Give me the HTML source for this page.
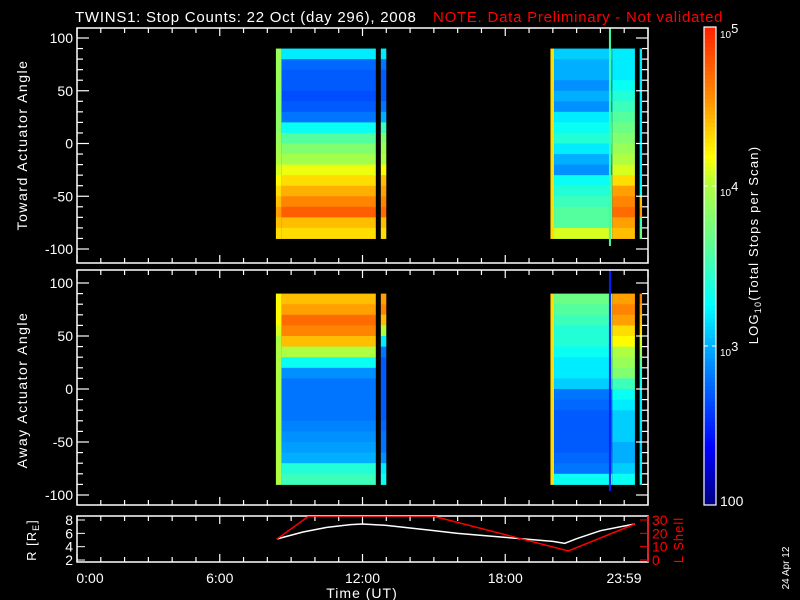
<!DOCTYPE html>
<html><head><meta charset="utf-8"><style>
html,body{margin:0;padding:0;background:#000;overflow:hidden;}
svg{display:block;font-family:"Liberation Sans",sans-serif;}
</style></head><body>
<svg id="c" width="800" height="600" viewBox="0 0 800 600">
<rect width="800" height="600" fill="#000"/>
<g id="g"></g>
<text x="75" y="22" fill="#fff" font-size="15" letter-spacing="0.75">TWINS1: Stop Counts: 22 Oct (day 296), 2008</text>
<text x="433" y="22" fill="#f00" font-size="15" letter-spacing="0.75">NOTE. Data Preliminary - Not validated</text>
<text transform="translate(27,145) rotate(-90)" text-anchor="middle" fill="#fff" font-size="14" letter-spacing="1.5">Toward Actuator Angle</text>
<text transform="translate(27,390) rotate(-90)" text-anchor="middle" fill="#fff" font-size="14" letter-spacing="1.5">Away Actuator Angle</text>
<text transform="translate(36,540) rotate(-90)" text-anchor="middle" fill="#fff" font-size="13" letter-spacing="1">R [R<tspan font-size="9" dy="3">E</tspan><tspan dy="-3">]</tspan></text>
<text transform="translate(683,540) rotate(-90)" text-anchor="middle" fill="#f00" font-size="13" letter-spacing="1">L Shell</text>
<text x="362" y="598" text-anchor="middle" fill="#fff" font-size="14" letter-spacing="1">Time (UT)</text>
<text x="720" y="38" fill="#fff" font-size="10">10<tspan font-size="13" dy="-5">5</tspan></text>
<text x="720" y="196" fill="#fff" font-size="10">10<tspan font-size="13" dy="-5">4</tspan></text>
<text x="720" y="356" fill="#fff" font-size="10">10<tspan font-size="13" dy="-5">3</tspan></text>
<text x="720" y="506" fill="#fff" font-size="14">100</text>
<text transform="translate(758,245) rotate(-90)" text-anchor="middle" fill="#fff" font-size="13" letter-spacing="1.2">LOG<tspan font-size="9" dy="3">10</tspan><tspan dy="-3">(Total Stops per Scan)</tspan></text>
<text transform="translate(789,568) rotate(-90)" text-anchor="middle" fill="#fff" font-size="10">24 Apr 12</text>
</svg>
<script>
// ---- data ----
const angleCenters = [85,75,65,55,45,35,25,15,5,-5,-15,-25,-35,-45,-55,-65,-75,-85];
const blockTimes = [[8.36,8.6],[8.6,12.56],[12.77,13.0],[19.9,20.05],[20.05,22.5],[22.5,23.45],[23.65,23.75]];
const towardVals = [
 [3.9,3.9,3.9,3.9,3.85,3.85,3.85,3.85,3.9,3.95,4.0,4.1,4.2,4.3,4.4,4.5,4.4,4.3],
 [3.2,2.75,2.7,2.7,2.65,2.7,2.8,3.3,3.6,3.8,3.95,4.15,4.3,4.45,4.6,4.75,4.4,4.3],
 [3.2,2.8,2.7,2.7,2.7,2.8,3.0,3.5,3.8,3.9,4.0,4.2,4.4,4.5,4.6,4.7,4.4,4.3],
 [4.3,4.3,4.3,4.3,4.3,4.3,4.3,4.3,4.3,4.3,4.3,4.3,4.3,4.3,4.3,4.3,4.3,4.3],
 [3.1,3.0,3.0,2.9,3.0,2.9,3.2,3.3,3.4,3.2,3.0,2.9,3.3,3.4,3.5,3.6,3.6,4.1],
 [3.2,3.2,3.2,3.3,3.4,3.5,3.6,3.7,3.8,3.9,4.0,4.1,4.3,4.5,4.6,4.7,4.5,4.4],
 [3.2,3.2,3.2,3.2,3.2,3.2,3.2,3.2,3.2,3.2,3.2,3.2,3.2,3.3,4.4,4.5,3.5,3.7]
];
const awayVals = [
 [4.2,4.2,4.2,4.1,4.0,4.0,4.0,4.0,4.0,4.0,4.0,4.0,4.0,4.0,4.0,4.0,4.0,4.0],
 [4.4,4.5,4.7,4.6,4.4,4.0,3.3,2.9,2.8,2.8,2.8,2.8,2.85,2.9,2.95,3.0,3.4,3.5],
 [4.5,4.6,4.4,4.0,3.2,2.8,2.7,2.7,2.7,2.7,2.7,2.7,2.75,2.8,2.8,2.9,3.2,3.3],
 [4.3,4.3,4.3,4.3,4.3,4.3,4.3,4.3,4.3,4.3,4.3,4.3,4.3,4.3,4.3,4.3,4.3,4.3],
 [3.7,3.6,3.5,3.4,3.4,3.3,3.2,3.2,3.1,2.8,2.75,2.7,2.7,2.7,2.7,2.75,2.8,3.3],
 [4.5,4.6,4.5,4.3,4.2,4.0,3.9,3.8,3.5,3.3,3.2,3.1,3.1,3.1,3.0,3.0,3.1,3.3],
 [4.6,4.5,4.4,4.3,4.1,3.9,3.6,3.4,3.3,3.2,3.2,3.2,3.2,3.1,3.1,3.2,3.2,3.3]
];
const markerTime = 22.4;
const rTimes = [8.4,9.5,10.5,11.5,12.0,13.0,14.0,15.0,16.0,17.0,18.0,19.0,20.0,20.5,21.0,22.0,23.0,23.45];
const rVals  = [5.15,6.2,6.9,7.3,7.4,7.2,6.8,6.4,6.0,5.7,5.4,5.1,4.8,4.5,5.2,6.4,7.1,7.4];
const lTimes = [8.4,9.75,14.95,20.65,23.45];
const lVals  = [15.7,33,33,6.8,27];
const timeTicks = [0,6,12,18,24];
const timeLabels = ["0:00","6:00","12:00","18:00","23:59"];
const angleTicks = [100,50,0,-50,-100];
const rTicks = [8,6,4,2];
const lTicks = [30,20,10,0];

// ---- axes ----
const X0=77, X1=648;
const xT = h => X0 + (X1-X0)*h/24;
const yTop = a => 143.5 - a*1.055;
const yBot = a => 389 - a*1.06;
const yR = v => 520 + (8-v)*6.67;
const yL = v => 520 + (30-v)*1.333;
const stops=[[0,[0,0,128]],[0.12,[0,0,255]],[0.3,[0,144,255]],[0.42,[0,255,255]],[0.55,[96,255,144]],[0.67,[176,255,64]],[0.73,[255,255,0]],[0.85,[255,144,0]],[1,[255,32,0]]];
function cmap(v){let t=Math.max(0,Math.min(1,(v-2)/3));for(let i=1;i<stops.length;i++){if(t<=stops[i][0]){const a=stops[i-1],b=stops[i],f=(t-a[0])/(b[0]-a[0]);return 'rgb('+a[1].map((c,k)=>Math.round(c+(b[1][k]-c)*f)).join(',')+')';}}return 'rgb(255,32,0)';}
const NS='http://www.w3.org/2000/svg', G=document.getElementById('g');
function el(tag,attrs,parent){const e=document.createElementNS(NS,tag);for(const k in attrs)e.setAttribute(k,attrs[k]);(parent||G).appendChild(e);return e;}
function txt(s,x,y,attrs,parent){const e=el('text',Object.assign({x:x,y:y,fill:'#fff','font-size':13},attrs),parent);e.textContent=s;return e;}

function heat(vals,yf,name){
  const grp=el('g',{});
  
  
  blockTimes.forEach((bt,bi)=>{
    angleCenters.forEach((a,ai)=>{
      const y1=yf(a+5), y2=yf(a-5);
      const r=el('rect',{x:xT(bt[0]),y:y1,width:xT(bt[1])-xT(bt[0]),height:y2-y1+0.5,fill:cmap(vals[bi][ai])},grp);
      
      
    });
  });
}
heat(towardVals,yTop,'toward-spectrogram');
heat(awayVals,yBot,'away-spectrogram');
const m1=el('line',{x1:xT(markerTime),x2:xT(markerTime),y1:28,y2:246,stroke:'#40ffa0','stroke-width':2});


const m2=el('line',{x1:xT(markerTime),x2:xT(markerTime),y1:270,y2:491,stroke:'#0020ff','stroke-width':2});



function frame(y0,y1,name){
  const f=el('rect',{x:X0,y:y0,width:X1-X0,height:y1-y0,fill:'none',stroke:'#fff','stroke-width':1.5});
  
  
  for(let h=0;h<=24;h++){const L=(h%6==0)?8:5;const x=xT(h);
    el('line',{x1:x,x2:x,y1:y1,y2:y1-L,stroke:'#fff','stroke-width':1.2});
    el('line',{x1:x,x2:x,y1:y0,y2:y0+L,stroke:'#fff','stroke-width':1.2});}
}
function angleAxis(yf,y0,y1,name){
  for(let a=-100;a<=100;a+=10){const y=yf(a);if(y<y0||y>y1)continue;const L=(a%50==0)?12:6;
    el('line',{x1:X0,x2:X0+L,y1:y,y2:y,stroke:'#fff','stroke-width':1.2});
    el('line',{x1:X1,x2:X1-L,y1:y,y2:y,stroke:'#fff','stroke-width':1.2});}
  angleTicks.forEach(a=>{const t=txt(String(a),73,yf(a)+5,{'text-anchor':'end','font-size':14});
    });
}
frame(28,263,'toward-panel-frame'); angleAxis(yTop,28,263,'toward-y');
frame(270,505,'away-panel-frame'); angleAxis(yBot,270,505,'away-y');
frame(516,562,'orbit-panel-frame');
rTicks.forEach(v=>{el('line',{x1:X0,x2:X0+8,y1:yR(v),y2:yR(v),stroke:'#fff'});
  const t=txt(String(v),73,yR(v)+5,{'text-anchor':'end','font-size':14});
  });
lTicks.forEach(v=>{el('line',{x1:X1,x2:X1-8,y1:yL(v),y2:yL(v),stroke:'#f00'});
  const t=txt(String(v),652,yL(v)+5,{'font-size':14,fill:'#f00'});
  });
el('line',{x1:X1,x2:X1,y1:516,y2:562,stroke:'#f00','stroke-width':1.5});
const cp=el('clipPath',{id:'cp'});
el('rect',{x:X0,y:516,width:X1-X0,height:46},cp);
const rl=el('polyline',{points:rTimes.map((t,i)=>xT(t)+','+yR(rVals[i])).join(' '),fill:'none',stroke:'#fff','stroke-width':1.5,'clip-path':'url(#cp)'});

const ll=el('polyline',{points:lTimes.map((t,i)=>xT(t)+','+yL(lVals[i])).join(' '),fill:'none',stroke:'#f00','stroke-width':1.5,'clip-path':'url(#cp)'});

timeTicks.forEach((h,i)=>{let x=xT(h);if(i==0)x=90;if(i==timeTicks.length-1)x=624;
  const t=txt(timeLabels[i],x,583,{'text-anchor':'middle','font-size':14});
  });

// colorbar
const cb=el('g',{});


for(let i=0;i<120;i++){const v=2+3*(i+0.5)/120;const y=505-(i+1)*478/120;
  el('rect',{x:704,y:y,width:12,height:478/120+0.5,fill:cmap(v)},cb);}
el('rect',{x:704,y:27,width:12,height:478,fill:'none',stroke:'#fff','stroke-width':1.2},cb);
[186,346].forEach(p=>{el('line',{x1:704,x2:708,y1:p,y2:p,stroke:'#fff'},cb);el('line',{x1:712,x2:716,y1:p,y2:p,stroke:'#fff'},cb);});
</script>
</body></html>
